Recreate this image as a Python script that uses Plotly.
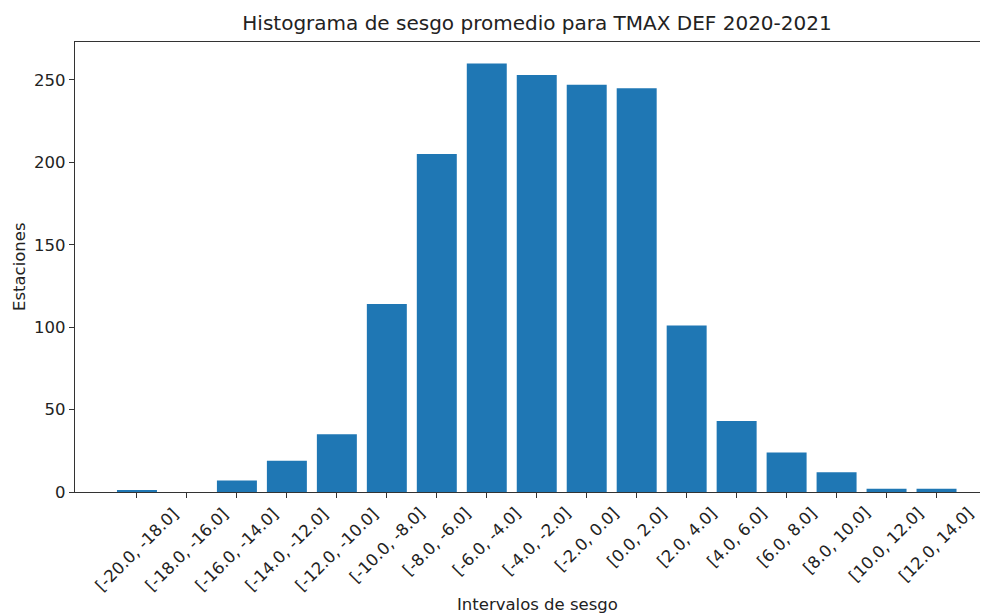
import plotly.graph_objects as go

# bias intervals and station counts
intervalos = [
    '[-20.0, -18.0]', '[-18.0, -16.0]', '[-16.0, -14.0]', '[-14.0, -12.0]',
    '[-12.0, -10.0]', '[-10.0, -8.0]', '[-8.0, -6.0]', '[-6.0, -4.0]',
    '[-4.0, -2.0]', '[-2.0, 0.0]', '[0.0, 2.0]', '[2.0, 4.0]',
    '[4.0, 6.0]', '[6.0, 8.0]', '[8.0, 10.0]', '[10.0, 12.0]', '[12.0, 14.0]',
]
estaciones = [1, 0, 7, 19, 35, 114, 205, 260, 253, 247, 245, 101, 43, 24, 12, 2, 2]
y_ticks = [0, 50, 100, 150, 200, 250]

FONT = 'DejaVu Sans'
# page has an 8px body margin, so the figure is drawn 8px smaller
W, H = 980, 607
L, T, B = 67, 34, 484   # plot box edges in figure pixels
x_pos = list(range(len(intervalos)))

fig = go.Figure(
    go.Bar(
        x = x_pos,
        y = estaciones,
        width = 0.8,
        marker_color = '#1f77b4',
        marker_line_width = 0,
        showlegend = False,
    )
)

axis_common = dict(
    showline = True,
    linecolor = '#333333',
    linewidth = 1.2,
    mirror = True,
    ticks = 'outside',
    ticklen = 5,
    tickwidth = 1.2,
    tickcolor = '#333333',
    showgrid = False,
    zeroline = False,
    tickfont = dict(family = FONT, size = 16.5, color = '#222222'),
)

# x labels are drawn as annotations below, centred on each tick (matplotlib style)
fig.update_xaxes(
    **axis_common,
    range = [-1.24, 17.03],
    tickmode = 'array',
    tickvals = x_pos,
    showticklabels = False,
)
fig.update_yaxes(
    **axis_common,
    range = [0, 273],
    tickmode = 'array',
    tickvals = y_ticks,
)

tick_labels = [
    dict(
        text = lab, x = xv, xref = 'x', y = 0, yref = 'paper',
        xanchor = 'center', yanchor = 'top', yshift = -9,
        textangle = -45, showarrow = False,
        font = dict(family = FONT, size = 16.5, color = '#222222'),
    ) for xv, lab in zip(x_pos, intervalos)
]

fig.update_layout(
    width = W,
    height = H,
    margin = dict(l = L, r = 0, t = T, b = H - B, autoexpand = False),
    plot_bgcolor = 'white',
    paper_bgcolor = 'white',
    font = dict(family = FONT, color = '#222222'),
    title = dict(
        text = 'Histograma de sesgo promedio para TMAX DEF 2020-2021',
        font = dict(family = FONT, size = 20, color = '#222222'),
        x = 529 / W, xanchor = 'center', xref = 'container',
        y = 1 - 15 / H, yanchor = 'middle', yref = 'container',
    ),
    annotations = tick_labels + [
        dict(
            text = 'Intervalos de sesgo', xref = 'paper', yref = 'paper',
            x = (529 - L) / (W - L), y = -(596 - B) / (B - T),
            xanchor = 'center', yanchor = 'middle', showarrow = False,
            font = dict(family = FONT, size = 16.5, color = '#222222'),
        ),
        dict(
            text = 'Estaciones', xref = 'paper', yref = 'paper',
            x = -(L - 11) / (W - L), y = (B - 259) / (B - T),
            xanchor = 'center', yanchor = 'middle', showarrow = False, textangle = -90,
            font = dict(family = FONT, size = 16.5, color = '#222222'),
        ),
    ],
)

fig.write_html('out.html')
